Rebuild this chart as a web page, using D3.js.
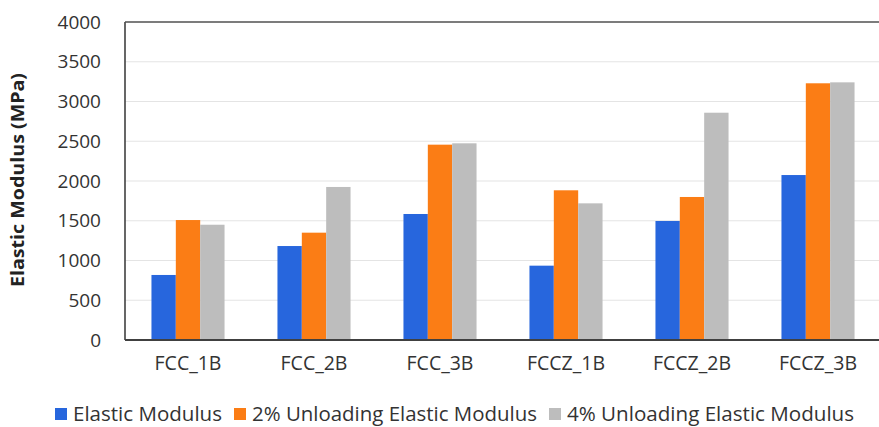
<!DOCTYPE html>
<html>
<head>
<meta charset="utf-8">
<script src="https://cdnjs.cloudflare.com/ajax/libs/d3/7.8.5/d3.min.js"></script>
<style>
  body { margin: 0; background: #fff; }
  svg { display: block; font-family: "Open Sans", "Noto Sans", sans-serif; }
</style>
</head>
<body>
<svg class="chart"></svg>
<script>
var categories = ["FCC_1B", "FCC_2B", "FCC_3B", "FCCZ_1B", "FCCZ_2B", "FCCZ_3B"];
var seriesNames = ["Elastic Modulus", "2% Unloading Elastic Modulus", "4% Unloading Elastic Modulus"];
var elastic = [818, 1182, 1585, 935, 1497, 2075];
var unload2 = [1509, 1350, 2457, 1883, 1799, 3229];
var unload4 = [1450, 1925, 2474, 1719, 2859, 3241];
var yTicks = [0, 500, 1000, 1500, 2000, 2500, 3000, 3500, 4000];
var colors = ["#2766dd", "#fb7d15", "#bdbdbd"];

var width = 879, height = 427;
var margin = {top: 22, right: -2, bottom: 87, left: 125};

var svg = d3.select(".chart").attr("width", width).attr("height", height);

var x = d3.scaleBand()
    .domain(categories)
    .range([margin.left, width - margin.right])
    .paddingInner(0.42)
    .paddingOuter(0.21);

var xs = d3.scaleBand()
    .domain(d3.range(seriesNames.length))
    .range([0, x.bandwidth()]);

var y = d3.scaleLinear()
    .domain([0, 4000])
    .range([height - margin.bottom, margin.top]);

// gridlines
svg.append("g")
  .selectAll("line")
  .data(yTicks.slice(1, -1))
  .enter()
  .append("line")
  .attr("x1", margin.left)
  .attr("x2", width)
  .attr("y1", function(d){ return y(d); })
  .attr("y2", function(d){ return y(d); })
  .attr("stroke", "#e4e4e4")
  .attr("stroke-width", 1.2);

// bars
var series = [elastic, unload2, unload4];
var groups = svg.append("g")
  .selectAll("g")
  .data(categories)
  .enter()
  .append("g")
  .attr("transform", function(d){ return "translate(" + x(d) + ",0)"; });

groups.selectAll("rect")
  .data(function(d, i){ return series.map(function(s, j){ return {s: j, v: s[i]}; }); })
  .enter()
  .append("rect")
  .attr("x", function(d){ return xs(d.s); })
  .attr("width", xs.bandwidth())
  .attr("y", function(d){ return y(d.v); })
  .attr("height", function(d){ return y(0) - y(d.v); })
  .attr("fill", function(d){ return colors[d.s]; });

// frame: left, top, bottom
svg.append("line")
  .attr("x1", margin.left).attr("x2", margin.left)
  .attr("y1", y(4000)).attr("y2", y(0))
  .attr("stroke", "#404040").attr("stroke-width", 1.6);
svg.append("line")
  .attr("x1", margin.left).attr("x2", width)
  .attr("y1", y(4000)).attr("y2", y(4000))
  .attr("stroke", "#505050").attr("stroke-width", 1.6);
svg.append("line")
  .attr("x1", margin.left).attr("x2", width)
  .attr("y1", y(0)).attr("y2", y(0))
  .attr("stroke", "#404040").attr("stroke-width", 1.8);

// y tick labels
var yAxis = d3.axisLeft(y).tickValues(yTicks).tickFormat(d3.format("d")).tickSize(0).tickPadding(24);
var ya = svg.append("g")
  .attr("transform", "translate(" + margin.left + ",0)")
  .call(yAxis);
ya.select(".domain").remove();
ya.selectAll("text")
  .attr("font-size", "19px")
  .attr("font-family", "'Open Sans', sans-serif")
  .attr("fill", "#333");

// x tick labels
var xAxis = d3.axisBottom(x).tickSize(0).tickPadding(16);
var xa = svg.append("g")
  .attr("transform", "translate(0," + y(0) + ")")
  .call(xAxis);
xa.select(".domain").remove();
xa.selectAll("text")
  .attr("font-size", "19.5px")
  .attr("font-family", "'Open Sans', sans-serif")
  .attr("fill", "#333");

// y title
svg.append("text")
  .attr("transform", "translate(24," + 180 + ") rotate(-90)")
  .attr("text-anchor", "middle")
  .attr("font-size", "18px")
  .attr("font-weight", "bold")
  .attr("fill", "#222")
  .attr("textLength", 214)
  .attr("lengthAdjust", "spacingAndGlyphs")
  .text("Elastic Modulus (MPa)");

// legend
var legendX = [55, 234, 549];
var legendW = [149, 285, 287];
var legend = svg.append("g")
  .selectAll("g")
  .data(seriesNames)
  .enter()
  .append("g")
  .attr("transform", function(d, i){ return "translate(" + legendX[i] + ",414)"; });
legend.append("rect")
  .attr("x", 0).attr("y", -6)
  .attr("width", 12).attr("height", 12)
  .attr("fill", function(d, i){ return colors[i]; });
legend.append("text")
  .attr("x", 18).attr("y", 7)
  .attr("font-size", "20px")
  .attr("fill", "#333")
  .attr("textLength", function(d, i){ return legendW[i]; })
  .attr("lengthAdjust", "spacingAndGlyphs")
  .text(function(d){ return d; });
</script>
</body>
</html>
